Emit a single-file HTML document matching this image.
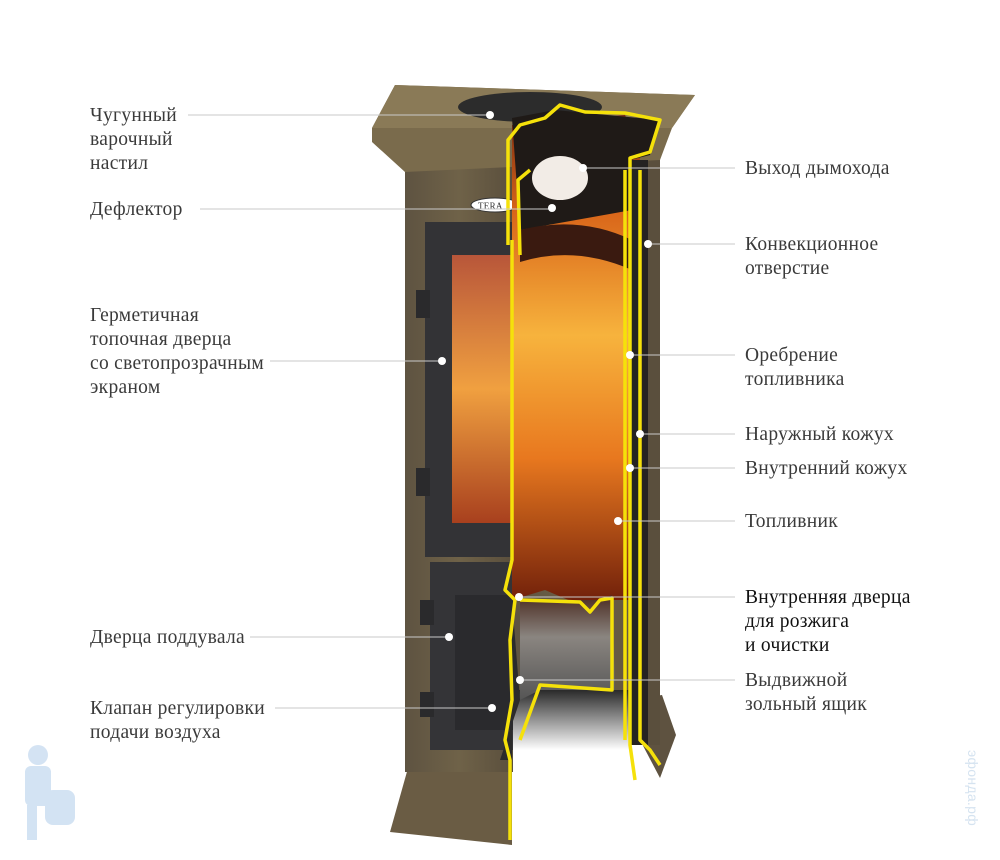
<!DOCTYPE html>
<html><head><meta charset="utf-8"><style>
html,body{margin:0;padding:0;background:#fff;}
svg{display:block}
text{font-family:"Liberation Serif",serif;font-size:19.5px;letter-spacing:0.3px;fill:#3a3a3a}
</style></head><body>
<svg width="1000" height="860" viewBox="0 0 1000 860" xmlns="http://www.w3.org/2000/svg">
<defs>
<linearGradient id="br" x1="0" x2="1"><stop offset="0" stop-color="#5e5341"/><stop offset="0.5" stop-color="#6f6248"/><stop offset="1" stop-color="#5a4f3d"/></linearGradient>
<linearGradient id="fire" x1="0" y1="0" x2="0" y2="1"><stop offset="0" stop-color="#7a2a10"/><stop offset="0.2" stop-color="#d9661a"/><stop offset="0.45" stop-color="#f7b33d"/><stop offset="0.7" stop-color="#e8781f"/><stop offset="1" stop-color="#6e1e0a"/></linearGradient>
<linearGradient id="glass" x1="0" y1="0" x2="0" y2="1"><stop offset="0" stop-color="#b8563a"/><stop offset="0.5" stop-color="#f0a040"/><stop offset="1" stop-color="#a8401e"/></linearGradient>
<linearGradient id="ash" x1="0" y1="0" x2="0" y2="1"><stop offset="0" stop-color="#4a2a20"/><stop offset="0.4" stop-color="#8a8580"/><stop offset="1" stop-color="#555"/></linearGradient>
<linearGradient id="sh" x1="0" y1="0" x2="0" y2="1"><stop offset="0" stop-color="#2a2a2a"/><stop offset="1" stop-color="#fff"/></linearGradient>
</defs>
<!-- feet -->
<polygon points="390,832 408,768 512,760 512,845" fill="#6a5c44"/>
<polygon points="630,700 662,695 676,735 660,778 640,740" fill="#5e5240"/>
<!-- body -->
<rect x="405" y="160" width="108" height="612" fill="url(#br)"/>
<rect x="512" y="160" width="148" height="540" fill="url(#br)"/>
<rect x="630" y="160" width="30" height="585" fill="#5a4f3d"/>
<rect x="512" y="690" width="118" height="60" fill="url(#sh)"/>
<!-- top slab -->
<polygon points="372,128 395,85 695,95 672,128 660,160 405,172 372,142" fill="#7a6b4c"/>
<polygon points="372,128 395,85 695,95 672,128" fill="#8a7a57"/>
<ellipse cx="530" cy="107" rx="72" ry="15" fill="#2c2c2c"/>
<!-- logo -->
<ellipse cx="495" cy="205" rx="24" ry="7" fill="#fff" stroke="#333"/>
<text x="478" y="209" style="font-size:9px;fill:#333">TERA</text>
<!-- fire door -->
<rect x="425" y="222" width="88" height="335" fill="#333336"/>
<rect x="452" y="255" width="60" height="268" fill="url(#glass)"/>
<rect x="416" y="290" width="14" height="28" fill="#2a2a2c"/>
<rect x="416" y="468" width="14" height="28" fill="#2a2a2c"/>
<!-- ash door -->
<rect x="430" y="562" width="83" height="188" fill="#343437"/>
<rect x="455" y="595" width="58" height="135" fill="#2a2a2d"/>
<rect x="420" y="600" width="14" height="25" fill="#2a2a2c"/>
<rect x="420" y="692" width="14" height="25" fill="#2a2a2c"/>
<!-- cutaway -->
<polygon points="512,125 625,115 640,150 632,600 600,600 580,605 545,590 512,600" fill="url(#fire)"/>
<polygon points="512,118 555,110 660,120 650,155 630,160 632,210 520,230" fill="#1f1a17"/>
<ellipse cx="560" cy="178" rx="28" ry="22" fill="#f2ece6"/>
<path d="M520 230 Q580 215 632 240 L632 270 Q575 245 520 262 Z" fill="#3a1a10"/>
<polygon points="520,600 600,600 612,595 615,690 540,690 520,700" fill="url(#ash)"/>
<polygon points="630,160 648,160 648,745 630,745" fill="#252322"/>
<polygon points="512,600 520,700 500,760 512,760" fill="#2b2b2b"/>
<!-- yellow outlines -->
<g fill="none" stroke="#f5e10a" stroke-width="3.5" stroke-linejoin="round">
<polyline points="508,245 508,140 520,125 545,118 560,105 585,112 625,113 660,120 650,152 630,158 630,745 635,780"/>
<polyline points="512,240 512,560 505,590 515,600 510,640 512,700 505,740 510,760 510,840"/>
<polyline points="625,170 625,740"/>
<polyline points="640,170 640,740 650,750 660,765"/>
<polyline points="520,600 580,602 590,612 600,600 612,598 612,690 540,685 520,740"/>
<polyline points="520,255 518,180 530,170"/>
</g>
<!-- leader lines -->
<g stroke="#c9c9c9" stroke-width="1">
<line x1="188" y1="115" x2="490" y2="115"/>
<line x1="200" y1="209" x2="552" y2="209"/>
<line x1="270" y1="361" x2="442" y2="361"/>
<line x1="250" y1="637" x2="449" y2="637"/>
<line x1="275" y1="708" x2="492" y2="708"/>
<line x1="583" y1="168" x2="735" y2="168"/>
<line x1="648" y1="244" x2="735" y2="244"/>
<line x1="630" y1="355" x2="735" y2="355"/>
<line x1="640" y1="434" x2="735" y2="434"/>
<line x1="630" y1="468" x2="735" y2="468"/>
<line x1="618" y1="521" x2="735" y2="521"/>
<line x1="519" y1="597" x2="735" y2="597"/>
<line x1="520" y1="680" x2="735" y2="680"/>
</g>
<g fill="#fff">
<circle cx="490" cy="115" r="4"/><circle cx="552" cy="208" r="4"/><circle cx="442" cy="361" r="4"/>
<circle cx="449" cy="637" r="4"/><circle cx="492" cy="708" r="4"/><circle cx="583" cy="168" r="4"/>
<circle cx="648" cy="244" r="4"/><circle cx="630" cy="355" r="4"/><circle cx="640" cy="434" r="4"/>
<circle cx="630" cy="468" r="4"/><circle cx="618" cy="521" r="4"/><circle cx="519" cy="597" r="4"/>
<circle cx="520" cy="680" r="4"/>
</g>
<!-- labels left -->
<text x="90" y="121">Чугунный</text>
<text x="90" y="145">варочный</text>
<text x="90" y="169">настил</text>
<text x="90" y="215">Дефлектор</text>
<text x="90" y="321">Герметичная</text>
<text x="90" y="345">топочная дверца</text>
<text x="90" y="369">со светопрозрачным</text>
<text x="90" y="393">экраном</text>
<text x="90" y="643">Дверца поддувала</text>
<text x="90" y="714">Клапан регулировки</text>
<text x="90" y="738">подачи воздуха</text>
<!-- labels right -->
<text x="745" y="174">Выход дымохода</text>
<text x="745" y="250">Конвекционное</text>
<text x="745" y="274">отверстие</text>
<text x="745" y="361">Оребрение</text>
<text x="745" y="385">топливника</text>
<text x="745" y="440">Наружный кожух</text>
<text x="745" y="474">Внутренний кожух</text>
<text x="745" y="527">Топливник</text>
<text x="745" y="603" style="fill:#111">Внутренняя дверца</text>
<text x="745" y="627" style="fill:#111">для розжига</text>
<text x="745" y="651" style="fill:#111">и очистки</text>
<text x="745" y="686">Выдвижной</text>
<text x="745" y="710">зольный ящик</text>
<!-- watermark -->
<g fill="#cfe0f2" opacity="0.9">
<circle cx="38" cy="755" r="10"/>
<rect x="25" y="766" width="26" height="40" rx="6"/>
<rect x="45" y="790" width="30" height="35" rx="8"/>
<rect x="27" y="805" width="10" height="35"/>
</g>
<text x="0" y="0" transform="translate(968,750) rotate(90)" style="font-family:'Liberation Sans',sans-serif;font-size:14px;fill:#d5e3f0">эфонда.рф</text>
</svg>
</body></html>
